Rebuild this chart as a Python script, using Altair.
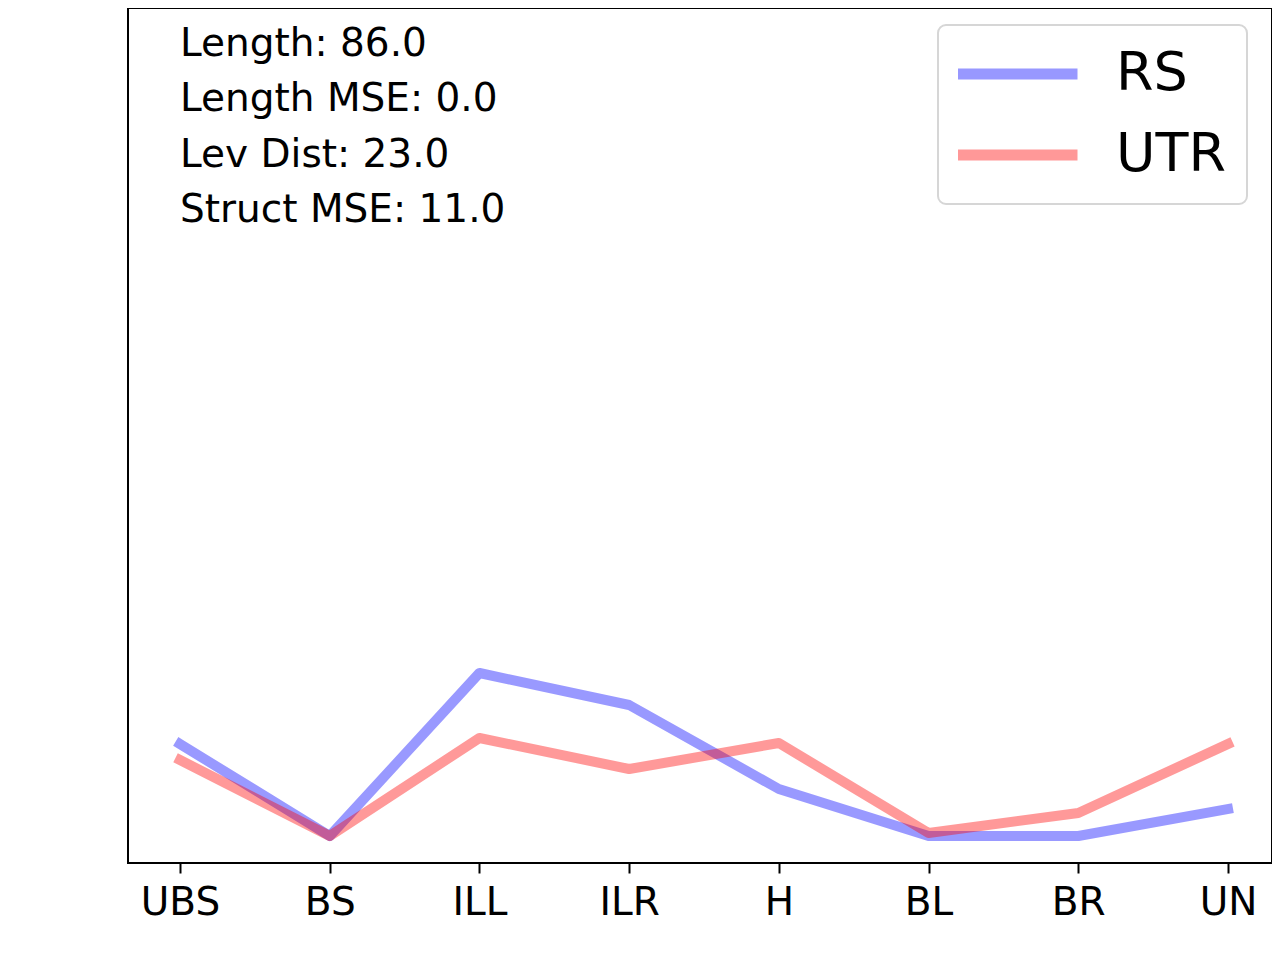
import altair as alt
import pandas as pd

categories = ["UBS", "BS", "ILL", "ILR", "H", "BL", "BR", "UN"]
rs_values = [9.2, 0.0, 16.3, 13.1, 4.7, 0.0, 0.0, 2.7]
utr_values = [7.6, 0.0, 9.8, 6.7, 9.3, 0.3, 2.3, 9.2]
series_names = ["RS", "UTR"]
series_colors = ["blue", "red"]
annotation_lines = ["Length: 86.0", "Length MSE: 0.0", "Lev Dist: 23.0", "Struct MSE: 11.0"]

rows = []
for name, vals in zip(series_names, [rs_values, utr_values]):
    for i, (c, v) in enumerate(zip(categories, vals)):
        rows.append({"cat": c, "value": v, "series": name, "order": i})
df = pd.DataFrame(rows)

FONT = "DejaVu Sans"

lines = alt.Chart(df).mark_line(
    strokeWidth=10, opacity=0.4, strokeCap="square", strokeJoin="round"
).encode(
    x=alt.X("cat:N", sort=categories,
            scale=alt.Scale(type="point", padding=0.3206, align=0.5417),
            axis=alt.Axis(title=None, labelAngle=0, labelFontSize=39, labelFont=FONT,
                          labelColor="black", tickSize=10, tickWidth=2, tickColor="black",
                          domain=False, labelPadding=10, grid=False)),
    y=alt.Y("value:Q", scale=alt.Scale(domain=[-2.7, 82.8], nice=False, zero=False),
            axis=None),
    color=alt.Color("series:N",
                    scale=alt.Scale(domain=series_names, range=series_colors),
                    legend=alt.Legend(orient="none", legendX=810, legendY=17, title=None,
                                      symbolType="stroke", symbolSize=122 * 122,
                                      symbolStrokeWidth=11, symbolOpacity=0.4,
                                      symbolOffset=-8,
                                      labelFontSize=54, labelFont=FONT, labelColor="black",
                                      labelOffset=33, rowPadding=23, clipHeight=58,
                                      padding=20, strokeColor="#d6d6d6", fillColor="white",
                                      cornerRadius=8, labelLimit=0)),
    order="order:Q",
)

ann = alt.Chart(pd.DataFrame({"t": ["\n".join(annotation_lines)]})).mark_text(
    align="left", baseline="alphabetic", fontSize=39, font=FONT, color="black",
    lineBreak="\n", lineHeight=55.3
).encode(
    x=alt.value(52), y=alt.value(48), text="t:N"
)

chart = alt.layer(lines, ann).properties(
    width=1144, height=855,
    padding={"left": 120, "top": 0, "right": 0, "bottom": 0},
    background="white",
).configure_view(stroke="black", strokeWidth=2).configure_legend(strokeWidth=2)

chart.save("out.html", embed_options={"renderer": "svg", "actions": False})
